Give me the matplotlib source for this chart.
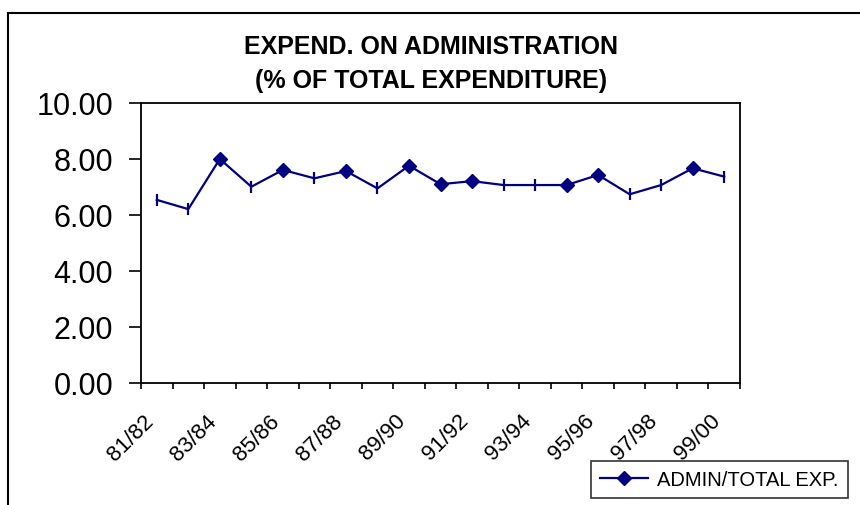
import matplotlib

matplotlib.use("Agg")

import matplotlib.pyplot as plt
from matplotlib.lines import Line2D
from matplotlib.patches import Rectangle
from matplotlib.transforms import ScaledTranslation

plt.rcParams["font.family"] = ["Liberation Sans", "DejaVu Sans"]

years = [
    "81/82", "82/83", "83/84", "84/85", "85/86", "86/87", "87/88",
    "88/89", "89/90", "90/91", "91/92", "92/93", "93/94", "94/95",
    "95/96", "96/97", "97/98", "98/99", "99/00",
]
admin_share = [
    6.54, 6.21, 8.00, 7.01, 7.61, 7.31, 7.57, 6.95, 7.76, 7.10,
    7.21, 7.07, 7.07, 7.07, 7.43, 6.74, 7.07, 7.67, 7.37,
]
# points drawn with a diamond in the original; the rest show a short bar
diamond_points = [2, 4, 6, 8, 9, 10, 13, 14, 17]
y_ticks = [0, 2, 4, 6, 8, 10]

NAVY = "#000080"


def draw_chart():
    fig = plt.figure(figsize=(8.6, 5.06), dpi=100)
    ax = fig.add_axes([141 / 860, 1 - 384 / 506, 599 / 860, 280 / 506])

    x = list(range(len(years)))
    ax.plot(x, admin_share, color=NAVY, linewidth=1.6, zorder=3)
    bar_points = [i for i in x if i not in diamond_points]
    ax.plot([x[i] for i in diamond_points], [admin_share[i] for i in diamond_points],
            linestyle="none", marker="D", markersize=7.5, color=NAVY, zorder=4)
    ax.plot([x[i] for i in bar_points], [admin_share[i] for i in bar_points],
            linestyle="none", marker="|", markersize=9, markeredgewidth=1.6,
            color=NAVY, zorder=4)

    ax.set_xlim(-0.5, len(years) - 0.5)
    ax.set_ylim(0, 10)

    # category boundaries carry the tick marks, labels sit at centres
    ax.set_xticks([i - 0.5 for i in range(len(years) + 1)])
    ax.set_xticklabels([])
    ax.tick_params(axis="x", which="major", direction="out", length=4.5,
                   width=1.2, color="black")
    ax.set_xticks(x[::2], minor=True)
    ax.set_xticklabels(years[::2], minor=True, rotation=45, ha="right",
                       rotation_mode="anchor", fontsize=16)
    ax.tick_params(axis="x", which="minor", length=0, pad=10)
    shift = ScaledTranslation(-14 / 100, -13 / 100, fig.dpi_scale_trans)
    for label in ax.get_xticklabels(minor=True):
        label.set_transform(label.get_transform() + shift)

    ax.set_yticks(y_ticks)
    ax.set_yticklabels([f"{v:.2f}" for v in y_ticks], fontsize=22)
    ax.tick_params(axis="y", direction="out", length=9, width=1.2, pad=11)

    for spine in ax.spines.values():
        spine.set_color("black")
        spine.set_linewidth(1.3)

    fig.text(431 / 860, 1 - 47 / 506, "EXPEND. ON ADMINISTRATION",
             ha="center", va="center", fontsize=18, fontweight="bold")
    fig.text(431 / 860, 1 - 81 / 506, "(% OF TOTAL EXPENDITURE)",
             ha="center", va="center", fontsize=18, fontweight="bold")

    handle = Line2D([], [], color=NAVY, linewidth=1.6, marker="D", markersize=7.5)
    legend = fig.legend([handle], ["ADMIN/TOTAL EXP."], loc="lower left",
                        bbox_to_anchor=(591 / 860, 1 - 499 / 506),
                        fontsize=14.5, frameon=True, fancybox=False,
                        handlelength=2.4, borderpad=0.45, borderaxespad=0,
                        handletextpad=0.45)
    legend.get_frame().set_edgecolor("black")
    legend.get_frame().set_linewidth(1.2)

    border = Rectangle((8 / 860, -0.1), 1.2, 1.1 - 14 / 506, fill=False,
                       edgecolor="black", linewidth=1.5,
                       transform=fig.transFigure)
    fig.add_artist(border)

    fig.savefig("out.png", dpi=100)
    plt.close(fig)


if __name__ == "__main__":
    draw_chart()
